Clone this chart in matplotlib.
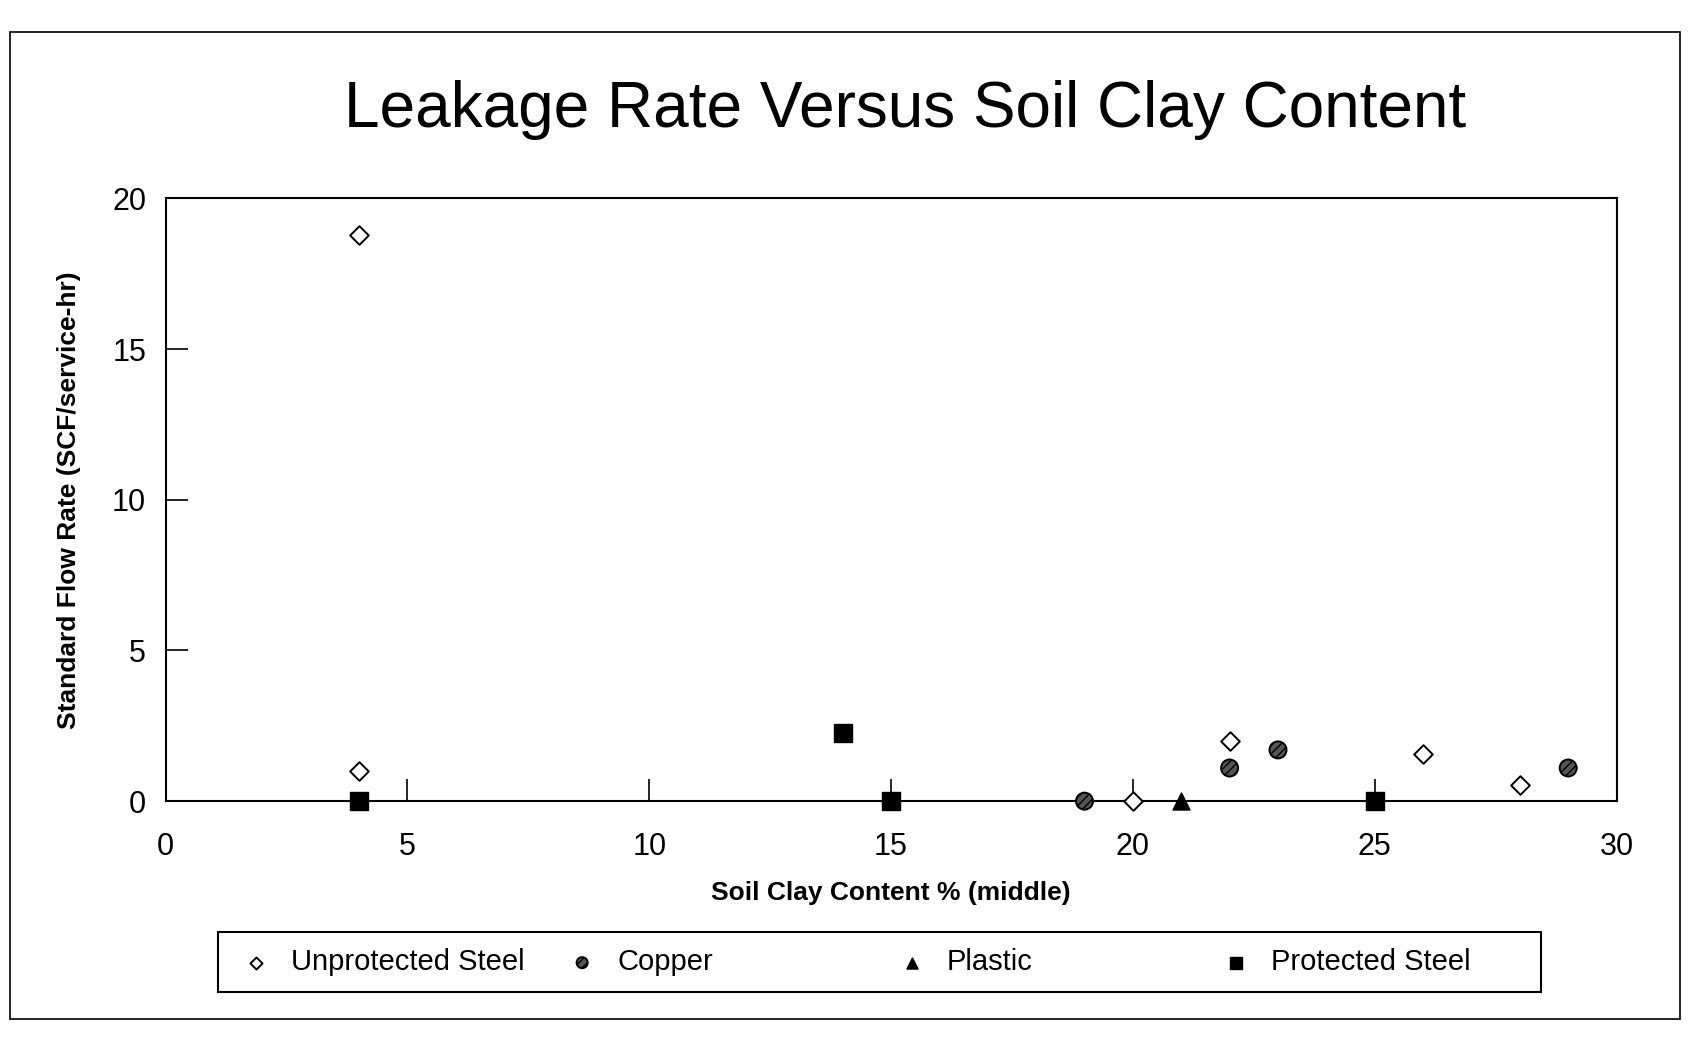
import matplotlib
matplotlib.use("Agg")
import matplotlib.pyplot as plt
from matplotlib.patches import Rectangle

plt.rcParams['font.family'] = ['Liberation Sans', 'DejaVu Sans']

# Data (Soil Clay Content %, Standard Flow Rate)
unprot_x = [4, 4, 20, 22, 26, 28]
unprot_y = [18.8, 1.0, 0.0, 2.0, 1.55, 0.55]
copper_x = [19, 22, 23, 29]
copper_y = [0.0, 1.1, 1.7, 1.1]
plastic_x = [21]
plastic_y = [0.0]
prot_x = [4, 14, 15, 25]
prot_y = [0.0, 2.25, 0.0, 0.0]

x_ticks = [0, 5, 10, 15, 20, 25, 30]
y_ticks = [0, 5, 10, 15, 20]

fig = plt.figure(figsize=(17.07, 10.5), dpi=100)
ax = fig.add_axes([0.097, 0.237, 0.85, 0.574])

h1 = ax.scatter(unprot_x, unprot_y, marker='D', s=90, facecolor='white', edgecolor='black',
                linewidth=1.4, label='Unprotected Steel', zorder=3, clip_on=False)
h2 = ax.scatter(copper_x, copper_y, marker='o', s=150, facecolor='#555555', edgecolor='black',
                linewidth=1.4, hatch='////', label='Copper', zorder=3, clip_on=False)
h3 = ax.scatter(plastic_x, plastic_y, marker='^', s=150, facecolor='black', edgecolor='black',
                label='Plastic', zorder=3, clip_on=False)
h4 = ax.scatter(prot_x, prot_y, marker='s', s=180, facecolor='black', edgecolor='black',
                label='Protected Steel', zorder=3, clip_on=False)

ax.set_xlim(0, 30)
ax.set_ylim(0, 20)
ax.set_xticks(x_ticks)
ax.set_yticks(y_ticks)
ax.tick_params(axis='both', direction='in', length=16, width=1.2, labelsize=22, pad=22)
ax.tick_params(axis='y', pad=14)
for s in ax.spines.values():
    s.set_linewidth(1.5)
    s.set_color('black')

ax.set_xlabel('Soil Clay Content % (middle)', fontsize=19, fontweight='bold', labelpad=14)
ax.set_ylabel('Standard Flow Rate (SCF/service-hr)', fontsize=19, fontweight='bold', labelpad=22)

fig.text(0.53, 0.895, 'Leakage Rate Versus Soil Clay Content', ha='center', va='center',
         fontsize=46)

# Legend: framed box with evenly spaced entries
fig.patches.append(Rectangle((0.128, 0.055), 0.775, 0.057, transform=fig.transFigure,
                             fill=False, edgecolor='black', linewidth=1.5))
marker_pos = [0.150, 0.341, 0.534, 0.724]
for h, xp in zip([h1, h2, h3, h4], marker_pos):
    fig.legend(handles=[h], loc='center left', bbox_to_anchor=(xp - 0.0085, 0.0835),
               frameon=False, fontsize=21, handlelength=1.0, handletextpad=0.7,
               borderpad=0, borderaxespad=0, markerscale=0.65)

fig.patches.append(Rectangle((0.006, 0.03), 0.978, 0.94, transform=fig.transFigure,
                             fill=False, edgecolor='black', linewidth=1.2))

fig.savefig('out.png', dpi=100, facecolor='white')
